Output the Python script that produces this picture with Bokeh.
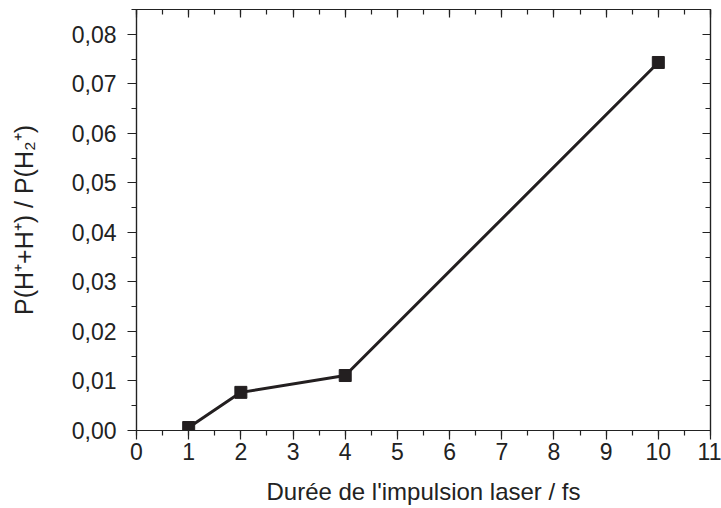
from bokeh.plotting import figure
from bokeh.models import (LinearAxis, FixedTicker, CustomJSTickFormatter, Range1d)
from bokeh.embed import file_html
from bokeh.resources import INLINE

# Data
durations = [1, 2, 4, 10]
ratios = [0.0006, 0.0077, 0.0111, 0.0743]

x_ticks = list(range(0, 12))
x_minor = [i * 0.5 for i in range(0, 23)]
y_ticks = [0.00, 0.01, 0.02, 0.03, 0.04, 0.05, 0.06, 0.07, 0.08]
y_minor = [i * 0.005 for i in range(0, 18)]

x_title = "Durée de l'impulsion laser / fs"
y_title = "P(H⁺+H⁺) / P(H₂⁺)"

FONT = "Liberation Sans"
FS = "23px"
TFS = "24px"
DARK = "#231f20"

p = figure(width=721, height=506, output_backend="svg", toolbar_location=None,
           x_range=Range1d(0, 11), y_range=Range1d(0, 0.085),
           x_axis_location=None, y_axis_location=None,
           min_border_left=136, min_border_right=11,
           min_border_top=9, min_border_bottom=76)
p.frame_width = 574
p.frame_height = 421
p.xgrid.visible = False
p.ygrid.visible = False
p.outline_line_color = "#222222"
p.outline_line_width = 1.2
p.background_fill_color = "white"
p.border_fill_color = "white"

xt = FixedTicker(ticks=x_ticks, minor_ticks=x_minor)
yt = FixedTicker(ticks=y_ticks, minor_ticks=y_minor)

xfmt = CustomJSTickFormatter(code="return tick.toFixed(0);")
yfmt = CustomJSTickFormatter(code="return tick.toFixed(2).replace('.', ',');")
blank = CustomJSTickFormatter(code="return '';")

def style(ax, out=True):
    ax.axis_line_color = "#222222"
    ax.axis_line_width = 1.2
    ax.major_tick_line_color = "#222222"
    ax.minor_tick_line_color = "#222222"
    ax.major_tick_line_width = 1.2
    ax.minor_tick_line_width = 1.2
    if out:
        ax.major_tick_out = 9
        ax.major_tick_in = 0
        ax.minor_tick_out = 5
        ax.minor_tick_in = 0
    else:
        ax.major_tick_out = 0
        ax.major_tick_in = 8
        ax.minor_tick_out = 0
        ax.minor_tick_in = 5
    ax.major_label_text_font = FONT
    ax.major_label_text_font_size = FS
    ax.major_label_text_color = "#222222"
    ax.axis_label_text_font = FONT
    ax.axis_label_text_font_size = TFS
    ax.axis_label_text_font_style = "normal"
    ax.axis_label_text_color = "#222222"

xb = LinearAxis(ticker=xt, formatter=xfmt, axis_label=x_title)
style(xb)
xb.major_label_standoff = 3
xb.axis_label_standoff = 15
p.add_layout(xb, "below")

yl = LinearAxis(ticker=yt, formatter=yfmt, axis_label=y_title)
style(yl)
yl.major_label_standoff = 11
yl.axis_label_standoff = 31
yl.axis_label_text_font_size = "25px"
p.add_layout(yl, "left")

xa = LinearAxis(ticker=xt, formatter=blank)
style(xa, out=False)
xa.major_label_text_font_size = "0px"
xa.major_label_standoff = 0
p.add_layout(xa, "above")

yr = LinearAxis(ticker=yt, formatter=blank)
style(yr, out=False)
yr.major_label_text_font_size = "0px"
yr.major_label_standoff = 0
p.add_layout(yr, "right")

p.line(durations, ratios, line_color=DARK, line_width=3)
p.scatter(durations, ratios, marker="square", size=12, fill_color=DARK,
          line_color=DARK)

open("out.html", "w").write(file_html(p, INLINE))
